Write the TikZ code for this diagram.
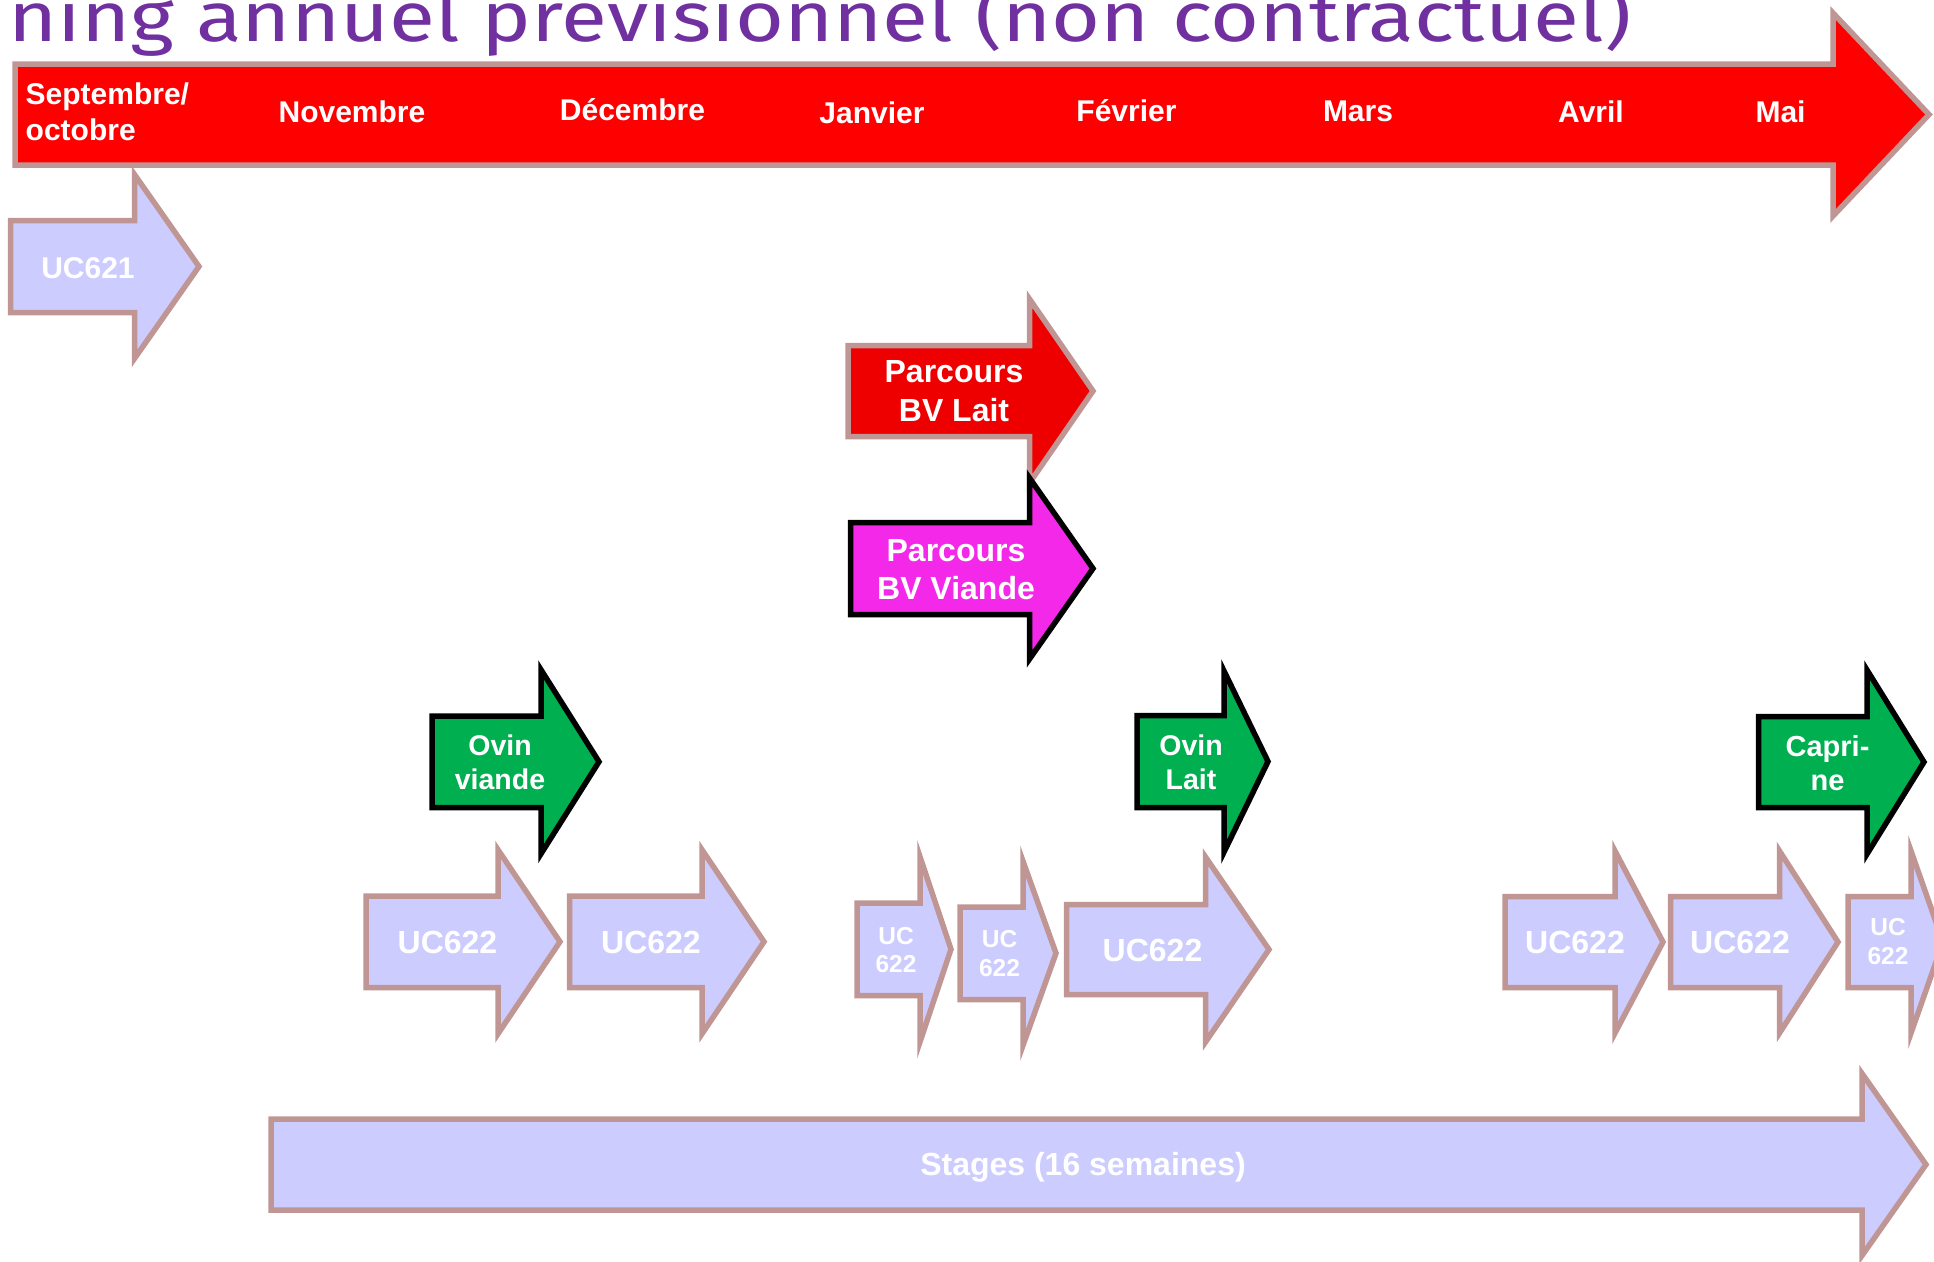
\documentclass[tikz,border=0pt]{standalone}
\usepackage{fontspec}
\setmainfont{Liberation Sans}
\newfontfamily\titlefont[FakeStretch=1.2]{Fira Sans}
\usepackage{tikz}

\definecolor{edgebrown}{RGB}{191,150,147}
\definecolor{ucfill}{RGB}{204,204,255}
\definecolor{parcred}{RGB}{238,0,0}
\definecolor{parcpink}{RGB}{244,40,232}
\definecolor{ovingreen}{RGB}{0,176,80}
\definecolor{titlepurple}{RGB}{112,48,160}

% style, left x, shaft top y, shaft bottom y, head x, half head, tip x
\newcommand{\blockarrow}[7]{\draw[#1] (#2,#3) -- (#5,#3) -- (#5,{(#3+#4)/2-#6}) -- (#7,{(#3+#4)/2}) -- (#5,{(#3+#4)/2+#6}) -- (#5,#4) -- (#2,#4) -- cycle;}

\begin{document}
\begin{tikzpicture}[x=1pt,y=-1pt]
\tikzstyle{every node}=[text=white,inner sep=0pt,align=center];
\tikzstyle{blockedge}=[line width=5.5pt,line join=miter];
\tikzstyle{timeline}=[blockedge,fill=red,draw=edgebrown];
\tikzstyle{uc}=[blockedge,fill=ucfill,draw=edgebrown];
\tikzstyle{lait}=[blockedge,fill=parcred,draw=edgebrown];
\tikzstyle{viande}=[blockedge,fill=parcpink,draw=black];
\tikzstyle{ovin}=[blockedge,fill=ovingreen,draw=black];
\tikzstyle{month}=[font=\bfseries\fontsize{30}{36}\selectfont];
\useasboundingbox (0,0) rectangle (1934,1261);
\clip (0,0) rectangle (1934,1261);

\node[anchor=base west,text=titlepurple,font=\titlefont\fontsize{70}{80}\selectfont] (title) at (8,41.5) {ning annuel prévisionnel (non contractuel)};

\blockarrow{timeline}{15}{64}{165}{1833}{101.5}{1929}
\node[month,anchor=west,align=left] (sepoct) at (25.5,112) {Septembre/\\octobre};
\node[month] (nov) at (352,111.5) {Novembre};
\node[month] (dec) at (632.5,110) {Décembre};
\node[month] (jan) at (872,113) {Janvier};
\node[month] (fev) at (1126.5,110.5) {Février};
\node[month] (mar) at (1358,111.5) {Mars};
\node[month] (avr) at (1591,111.5) {Avril};
\node[month] (mai) at (1780.5,111.5) {Mai};

\blockarrow{uc}{10.5}{220.5}{312.5}{134.5}{92}{199}
\node[font=\bfseries\fontsize{30}{36}\selectfont] (uc621) at (88,268) {UC621};

\blockarrow{lait}{848}{345.5}{436.5}{1029.5}{92}{1093}
\node[font=\bfseries\fontsize{32}{38.5}\selectfont] (bvlait) at (954,391) {Parcours\\BV Lait};
\blockarrow{viande}{850.5}{522.5}{614.5}{1029.5}{90.5}{1093}
\node[font=\bfseries\fontsize{32}{38.5}\selectfont] (bvviande) at (956,569.5) {Parcours\\BV Viande};

\blockarrow{ovin}{432}{716}{807.5}{541}{92}{599}
\node[font=\bfseries\fontsize{28.5}{34}\selectfont] (ovinviande) at (500,762) {Ovin\\viande};
\blockarrow{ovin}{1137}{715.5}{807.5}{1224}{90.5}{1268}
\node[font=\bfseries\fontsize{28.5}{34}\selectfont] (ovinlait) at (1191,762) {Ovin\\Lait};
\blockarrow{ovin}{1758.5}{716.5}{807.5}{1867}{92}{1924}
\node[font=\bfseries\fontsize{29}{33.5}\selectfont] (caprine) at (1827.5,763) {Capri-\\ne};

\blockarrow{uc}{366}{896}{987.5}{498}{92}{560}
\node[font=\bfseries\fontsize{32}{38}\selectfont] (uca) at (447.5,942.5) {UC622};
\blockarrow{uc}{569.5}{896}{987.5}{702}{92}{764}
\node[font=\bfseries\fontsize{32}{38}\selectfont] (ucb) at (651,942.5) {UC622};
\blockarrow{uc}{857}{903}{995.5}{920}{92.5}{951}
\node[font=\bfseries\fontsize{24.5}{28.5}\selectfont] (ucc) at (896,950) {UC\\622};
\blockarrow{uc}{960}{907}{999.5}{1023}{92}{1056}
\node[font=\bfseries\fontsize{24.5}{28.5}\selectfont] (ucd) at (999.5,953.5) {UC\\622};
\blockarrow{uc}{1066.5}{904.5}{994.5}{1205.5}{92.5}{1269}
\node[font=\bfseries\fontsize{32}{38}\selectfont] (uce) at (1152.5,950) {UC622};
\blockarrow{uc}{1505}{896.5}{987.5}{1615}{91}{1663}
\node[font=\bfseries\fontsize{32}{38}\selectfont] (ucf) at (1575,942.5) {UC622};
\blockarrow{uc}{1670.5}{896.5}{987.5}{1779.5}{91}{1838}
\node[font=\bfseries\fontsize{32}{38}\selectfont] (ucg) at (1740,942.5) {UC622};
\blockarrow{uc}{1848}{896.5}{987.5}{1911}{91}{1943}
\node[font=\bfseries\fontsize{24.5}{28.5}\selectfont] (uch) at (1888,941.7) {UC\\622};

\blockarrow{uc}{271}{1119}{1210}{1862}{91}{1926}
\node[font=\bfseries\fontsize{32}{38}\selectfont] (stages) at (1083,1167) {Stages (16 semaines)};
\end{tikzpicture}
\end{document}
